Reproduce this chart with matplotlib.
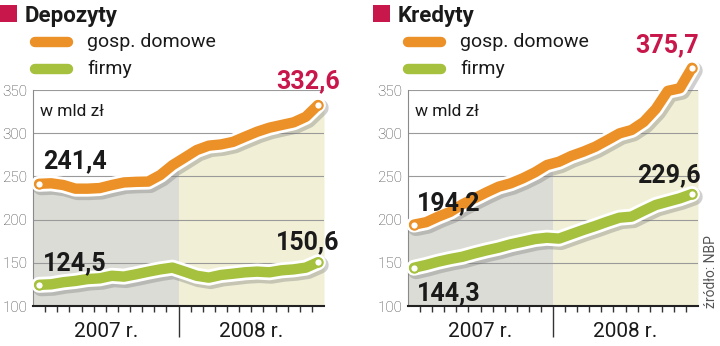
import numpy as np
import matplotlib
matplotlib.use("Agg")
import matplotlib.pyplot as plt
import matplotlib.patheffects as pe
from matplotlib.patches import Rectangle
from matplotlib.lines import Line2D

plt.rcParams['font.family'] = ['Roboto', 'DejaVu Sans']

# monthly values, Jan 2007 .. Dec 2008 (w mld zl)
months = np.arange(24) + 0.5
dep_hh = [241.4, 242.0, 240.0, 235.8, 235.8, 236.5, 240.0, 243.0, 243.7, 244.0, 251.6, 263.0,
          271.7, 280.5, 285.6, 287.0, 290.0, 296.0, 301.8, 306.4, 309.5, 312.6, 319.0, 332.6]
dep_firm = [124.5, 125.1, 127.5, 129.0, 131.2, 132.0, 135.0, 134.0, 136.7, 139.7, 142.4, 144.4,
            139.8, 135.0, 132.8, 135.9, 137.4, 139.0, 139.8, 139.0, 141.3, 142.4, 144.4, 150.6]
kred_hh = [194.2, 197.0, 203.4, 209.0, 217.7, 224.6, 231.6, 238.1, 242.0, 247.8, 254.7, 263.2,
           267.0, 273.6, 278.6, 284.4, 292.0, 299.8, 303.7, 313.0, 328.0, 349.0, 352.0, 375.7]
kred_firm = [144.3, 147.5, 151.3, 154.4, 157.0, 160.9, 164.4, 167.5, 171.4, 174.4, 177.5, 179.0,
             178.0, 183.0, 188.0, 192.6, 197.6, 202.2, 203.4, 210.3, 216.9, 220.8, 224.6, 229.6]

yticks = [100, 150, 200, 250, 300, 350]
years = ["2007 r.", "2008 r."]
legend_names = ["gosp. domowe", "firmy"]

ORANGE = "#EC9127"
GREEN = "#A5C13D"
CRIMSON = "#C8174A"
GRAY_FILL = "#DCDCD6"
YELLOW_FILL = "#F1F0D6"

fig = plt.figure(figsize=(7.2, 3.46), dpi=100)


def line_fx():
    return [pe.SimpleLineShadow(offset=(1.5, -2), shadow_color="#777777", alpha=0.35, linewidth=12.5),
            pe.Stroke(linewidth=11.5, foreground="white"),
            pe.Normal()]


def draw_panel(ax, hh, firm, lbls):
    x_ext = np.concatenate([[0], months, [24]])
    top = np.concatenate([[hh[0]], hh, [hh[-1]]])
    xa = np.linspace(0, 12, 200)
    xb = np.linspace(12, 24, 200)
    ax.fill_between(xa, 100, np.interp(xa, x_ext, top), color=GRAY_FILL, lw=0, zorder=1)
    ax.fill_between(xb, 100, np.interp(xb, x_ext, top), color=YELLOW_FILL, lw=0, zorder=1)

    for vals, col in [(hh, ORANGE), (firm, GREEN)]:
        ax.plot(months, vals, color=col, lw=7.5, solid_capstyle="round", solid_joinstyle="round",
                path_effects=line_fx(), clip_on=False, zorder=3)
        ax.plot([months[0], months[-1]], [vals[0], vals[-1]], "o", ms=6, mfc="white", mec=col,
                mew=1.5, clip_on=False, zorder=4)

    # value labels: (text, x, y, dx px, dy px, ha, color)
    for txt, xi, yi, dx, dy, ha, col in lbls:
        ax.annotate(txt, xy=(xi, yi), xytext=(dx / 1.389, dy / 1.389), textcoords="offset points",
                    ha=ha, va="baseline", fontsize=18, fontweight="bold", color=col, zorder=6,
                    annotation_clip=False)

    ax.set_xlim(0, 24)
    ax.set_ylim(100, 350)
    ax.set_yticks(yticks)
    ax.set_yticklabels([str(t) for t in yticks], fontsize=11, color="#444444", fontweight="light")
    ax.tick_params(axis="y", length=0, pad=4)
    ax.yaxis.grid(True, color="#9a9a9a", lw=0.8)
    ax.set_xticks([12])
    ax.set_xticks([i for i in range(1, 24) if i != 12], minor=True)
    ax.set_xticklabels([])
    ax.tick_params(axis="x", which="major", length=22, width=1, color="#333333")
    ax.tick_params(axis="x", which="minor", length=4, width=1, color="#333333")
    for s in ["top", "right"]:
        ax.spines[s].set_visible(False)
    ax.spines["left"].set_color("#8a8a8a")
    ax.spines["left"].set_linewidth(0.8)
    ax.spines["bottom"].set_color("#222222")
    ax.spines["bottom"].set_linewidth(1.5)
    tr = ax.get_xaxis_transform()
    ax.text(6, -0.12, years[0], transform=tr, ha="center", va="center", fontsize=15, color="#1a1a1a")
    ax.text(18, -0.12, years[1], transform=tr, ha="center", va="center", fontsize=15, color="#1a1a1a")
    ax.text(0.025, 0.9, "w mld zł", transform=ax.transAxes, ha="left", va="center", fontsize=12.5,
            color="#1a1a1a")


def draw_header(x0, title):
    W, H = 720.0, 346.0
    fig.patches.append(Rectangle((x0 / W, 1 - 21.5 / H), 16.5 / W, 16.5 / H, transform=fig.transFigure,
                                 color=CRIMSON, lw=0))
    fig.text((x0 + 25) / W, 1 - 22 / H, title, fontsize=16, fontweight="bold", color="#1a1a1a",
             ha="left", va="baseline")
    for k, (name, col) in enumerate(zip(legend_names, [ORANGE, GREEN])):
        yy = 1 - (42 + 27 * k) / H
        fig.lines.append(Line2D([(x0 + 35) / W, (x0 + 68) / W], [yy, yy], transform=fig.transFigure,
                                color=col, lw=7.5, solid_capstyle="round"))
        fig.text((x0 + 87) / W, yy, name, fontsize=14, color="#1a1a1a", ha="left", va="center")


ax1 = fig.add_axes([33 / 720, 1 - 306 / 346, 291 / 720, 216 / 346])
draw_panel(ax1, dep_hh, dep_firm, [
    ("241,4", months[0], dep_hh[0], 4, 16, "left", "#1a1a1a"),
    ("124,5", months[0], dep_firm[0], 4, 15, "left", "#1a1a1a"),
    ("332,6", months[-1], dep_hh[-1], 22, 17, "right", CRIMSON),
    ("150,6", months[-1], dep_firm[-1], 22, 13, "right", "#1a1a1a"),
])

ax2 = fig.add_axes([408 / 720, 1 - 306 / 346, 290 / 720, 216 / 346])
draw_panel(ax2, kred_hh, kred_firm, [
    ("194,2", months[0], kred_hh[0], 3, 14, "left", "#1a1a1a"),
    ("144,3", months[0], kred_firm[0], 3, -32, "left", "#1a1a1a"),
    ("375,7", months[-1], kred_hh[-1], 7, 16, "right", CRIMSON),
    ("229,6", months[-1], kred_firm[-1], 9, 12, "right", "#1a1a1a"),
])

draw_header(0, "Depozyty")
draw_header(373, "Kredyty")

fig.text(711 / 720, 1 - 308 / 346, "źródło: NBP", rotation=90, fontsize=10, color="#555555",
         ha="center", va="bottom")

fig.savefig("out.png", dpi=100)
